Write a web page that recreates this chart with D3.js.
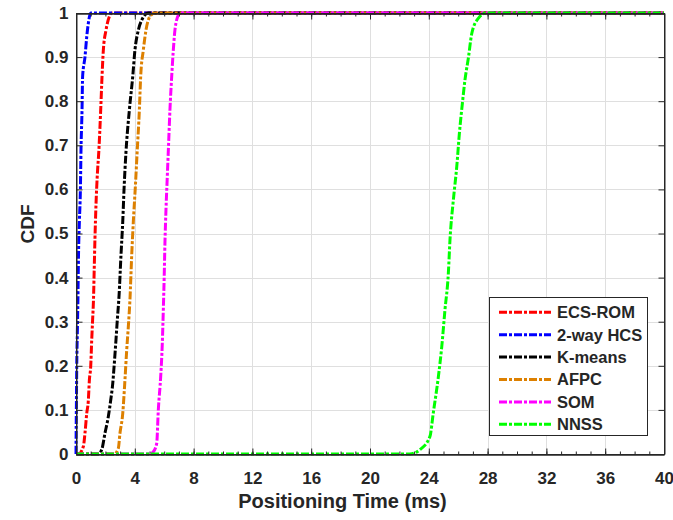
<!DOCTYPE html>
<html>
<head>
<meta charset="utf-8">
<script src="https://cdn.jsdelivr.net/npm/d3@7"></script>
<style>
  html, body { margin: 0; padding: 0; background: #fff; }
  svg { display: block; }
  text { font-family: "Liberation Sans", Arial, Helvetica, sans-serif; font-weight: bold; fill: #262626; }
</style>
</head>
<body>
<svg id="chart" width="673" height="520"></svg>
<script>
// ---- data ----
const seriesNames = ["ECS-ROM", "2-way HCS", "K-means", "AFPC", "SOM", "NNSS"];
const seriesColors = ["#ff0000", "#0000ff", "#000000", "#dd8000", "#ff00ff", "#00ff00"];

const ecsX   = [0, 0.16, 0.5, 0.61, 0.73, 0.84, 0.91, 1.0, 1.07, 1.13, 1.19, 1.24, 1.29, 1.36, 1.45, 1.55, 1.68, 1.77, 1.86, 2.04, 2.27, 2.45, 40];
const ecsY   = [0, 0, 0.017, 0.047, 0.092, 0.122, 0.168, 0.198, 0.259, 0.304, 0.35, 0.42, 0.489, 0.565, 0.633, 0.685, 0.78, 0.856, 0.916, 0.961, 0.992, 1, 1];

const hcsX   = [0, 0.01, 0.03, 0.05, 0.09, 0.13, 0.17, 0.23, 0.30, 0.34, 0.41, 0.45, 0.61, 0.73, 0.84, 1.0, 40];
const hcsY   = [0, 0.047, 0.122, 0.198, 0.274, 0.349, 0.451, 0.527, 0.602, 0.69, 0.78, 0.856, 0.9, 0.946, 0.977, 1, 1];

const kmX    = [0, 1.5, 1.75, 1.97, 2.2, 2.36, 2.5, 2.59, 2.72, 2.81, 2.93, 3.06, 3.18, 3.27, 3.4, 3.63, 3.86, 4.01, 4.24, 4.47, 4.92, 40];
const kmY    = [0, 0, 0.01, 0.047, 0.085, 0.122, 0.16, 0.198, 0.259, 0.304, 0.36, 0.451, 0.527, 0.602, 0.685, 0.78, 0.856, 0.916, 0.961, 0.984, 1, 1];

const afpcX  = [0, 2.6, 2.88, 2.99, 3.18, 3.33, 3.45, 3.56, 3.67, 3.79, 3.9, 4.03, 4.16, 4.31, 4.4, 4.58, 4.76, 5.03, 5.37, 40];
const afpcY  = [0, 0, 0.013, 0.047, 0.092, 0.168, 0.236, 0.289, 0.35, 0.451, 0.527, 0.602, 0.685, 0.78, 0.856, 0.916, 0.961, 0.992, 1, 1];

const somX   = [0, 5.0, 5.26, 5.49, 5.6, 5.76, 5.87, 5.94, 6.0, 6.05, 6.12, 6.21, 6.3, 6.39, 6.51, 6.62, 6.73, 6.96, 7.1, 40];
const somY   = [0, 0, 0.005, 0.024, 0.1, 0.175, 0.25, 0.327, 0.402, 0.478, 0.553, 0.629, 0.704, 0.78, 0.856, 0.916, 0.961, 0.995, 1, 1];

const nnssX  = [0, 22.7, 23.4, 24.08, 24.3, 24.65, 24.88, 25.1, 25.33, 25.44, 25.67, 25.9, 26.08, 26.3, 26.46, 26.7, 26.92, 27.37, 27.9, 40];
const nnssY  = [0, 0, 0.01, 0.04, 0.092, 0.175, 0.243, 0.327, 0.41, 0.485, 0.576, 0.651, 0.727, 0.8, 0.848, 0.9, 0.953, 0.988, 1, 1];

const xTicks = [0, 4, 8, 12, 16, 20, 24, 28, 32, 36, 40];
const xMinorTicks = d3.range(0, 41, 1);
const yTicks = [0, 0.1, 0.2, 0.3, 0.4, 0.5, 0.6, 0.7, 0.8, 0.9, 1];
const yTickLabels = ["0", "0.1", "0.2", "0.3", "0.4", "0.5", "0.6", "0.7", "0.8", "0.9", "1"];
const xLabel = "Positioning Time (ms)";
const yLabel = "CDF";

const seriesX = [ecsX, hcsX, kmX, afpcX, somX, nnssX];
const seriesY = [ecsY, hcsY, kmY, afpcY, somY, nnssY];

// ---- layout ----
const L = 76, R = 664, T = 13, B = 454;
const svg = d3.select("#chart");
const x = d3.scaleLinear().domain([0, 40]).range([L, R]);
const y = d3.scaleLinear().domain([0, 1]).range([B, T]);
const axisColor = "#262626";
const dash = "8,2,3,2";
const lw = 3;

// grid
const grid = svg.append("g");
grid.selectAll("line.gx").data(xTicks).enter().append("line")
  .attr("x1", d => Math.round(x(d)) + 0.5).attr("x2", d => Math.round(x(d)) + 0.5)
  .attr("y1", T).attr("y2", B)
  .attr("stroke", "#dfdfdf").attr("stroke-width", 1);
grid.selectAll("line.gy").data(yTicks).enter().append("line")
  .attr("y1", d => Math.round(y(d)) + 0.5).attr("y2", d => Math.round(y(d)) + 0.5)
  .attr("x1", L).attr("x2", R)
  .attr("stroke", "#dfdfdf").attr("stroke-width", 1);

// axes (inward ticks, box)
const fmtY = (d, i) => yTickLabels[i];
const axB = d3.axisBottom(x).tickValues(xTicks).tickSizeInner(-6).tickSizeOuter(0).tickPadding(14);
const axT = d3.axisTop(x).tickValues(xTicks).tickSizeInner(-6).tickSizeOuter(0).tickFormat("");
const axL = d3.axisLeft(y).tickValues(yTicks).tickSizeInner(-6).tickSizeOuter(0).tickPadding(14).tickFormat(fmtY);
const axR = d3.axisRight(y).tickValues(yTicks).tickSizeInner(-6).tickSizeOuter(0).tickFormat("");
const axBm = d3.axisBottom(x).tickValues(xMinorTicks).tickSizeInner(-3).tickSizeOuter(0).tickFormat("");
const axTm = d3.axisTop(x).tickValues(xMinorTicks).tickSizeInner(-3).tickSizeOuter(0).tickFormat("");

function styleAxis(g) {
  g.selectAll("path").attr("stroke", axisColor).attr("stroke-width", 1);
  g.selectAll("line").attr("stroke", axisColor).attr("stroke-width", 1);
  g.selectAll("text").attr("font-size", "17px").attr("font-family", "'Liberation Sans', Arial, sans-serif")
    .attr("font-weight", "bold").attr("fill", axisColor);
}

// curves
const line = d3.line().curve(d3.curveMonotoneX).x(d => x(d[0])).y(d => y(d[1]));
const curves = svg.append("g");
seriesNames.forEach((name, i) => {
  const pts = seriesX[i].map((v, j) => [v, seriesY[i][j]]);
  curves.append("path").datum(pts)
    .attr("d", line)
    .attr("fill", "none")
    .attr("stroke", seriesColors[i])
    .attr("stroke-width", lw)
    .attr("stroke-dasharray", dash);
});

const gB = svg.append("g").attr("transform", `translate(0,${B + 0.5})`).call(axB); styleAxis(gB);
gB.selectAll("text").attr("dy", "0.71em").attr("y", 17);
const gBm = svg.append("g").attr("transform", `translate(0,${B + 0.5})`).call(axBm); styleAxis(gBm);
const gT = svg.append("g").attr("transform", `translate(0,${T + 0.5})`).call(axT); styleAxis(gT);
const gTm = svg.append("g").attr("transform", `translate(0,${T + 0.5})`).call(axTm); styleAxis(gTm);
const gL = svg.append("g").attr("transform", `translate(${L + 0.5},0)`).call(axL); styleAxis(gL);
gL.selectAll("text").attr("x", -8);
const gR = svg.append("g").attr("transform", `translate(${R + 0.5},0)`).call(axR); styleAxis(gR);
svg.append("rect").attr("x", L + 0.5).attr("y", T + 0.5).attr("width", R - L).attr("height", B - T)
  .attr("fill", "none").attr("stroke", axisColor).attr("stroke-width", 1);

// axis labels
svg.append("text").attr("x", 342.5).attr("y", 508).attr("text-anchor", "middle")
  .attr("font-size", "20px").text(xLabel);
svg.append("text").attr("transform", "translate(34,224) rotate(-90)").attr("text-anchor", "middle")
  .attr("font-size", "19px").text(yLabel);

// legend
const lg = svg.append("g");
lg.append("rect").attr("x", 489.5).attr("y", 297.5).attr("width", 158).attr("height", 138)
  .attr("fill", "#fff").attr("stroke", axisColor).attr("stroke-width", 1);
seriesNames.forEach((name, i) => {
  const ry = 312.3 + i * 22.4;
  lg.append("line").attr("x1", 499).attr("x2", 551).attr("y1", ry).attr("y2", ry)
    .attr("stroke", seriesColors[i]).attr("stroke-width", lw).attr("stroke-dasharray", dash);
  lg.append("text").attr("x", 557).attr("y", ry).attr("dy", "0.36em")
    .attr("font-size", "16.5px").text(name);
});
</script>
</body>
</html>
